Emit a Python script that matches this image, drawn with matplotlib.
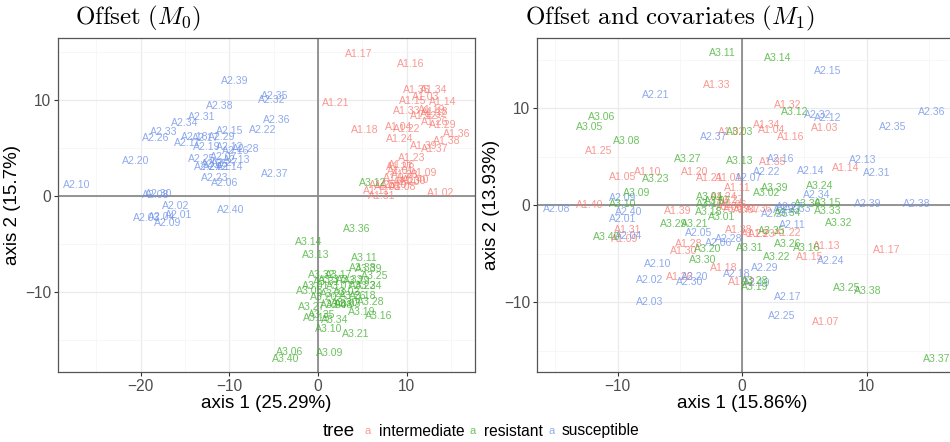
import matplotlib
matplotlib.use('Agg')
import matplotlib.pyplot as plt
from matplotlib.ticker import MultipleLocator

plt.rcParams['font.family'] = ['Liberation Sans', 'DejaVu Sans']
plt.rcParams['mathtext.fontset'] = 'cm'

# ---------------- data ----------------
sample_ids = ["01", "02", "03", "04", "05", "06", "07", "08", "09", "10",
              "11", "12", "13", "14", "15", "16", "17", "18", "19", "20",
              "21", "22", "23", "24", "25", "26", "27", "28", "29", "30",
              "31", "32", "33", "34", "35", "36", "37", "38", "39", "40"]

groups = ["intermediate", "resistant", "susceptible"]
group_prefix = ["A1", "A3", "A2"]
group_colors = ["#F8766D", "#3DAE2B", "#6A8FE8"]

# Model M0 (offset)
m0_int_x = [9.3, 13.8, 12.1, 9.05, 7.9, 9.4, 8.9, 9.5, 11.9, 8.5,
            6.6, 11.9, 13.2, 14.1, 10.7, 10.4, 4.55, 5.3, 12.8, 10.0,
            2.0, 10.0, 10.6, 9.2, 7.3, 13.2, 9.2, 9.8, 14.1, 10.7,
            7.2, 13.0, 10.0, 13.0, 11.1, 15.6, 13.2, 14.5, 11.9, 11.0]
m0_int_y = [2.6, 0.3, 10.3, 7.15, 0.9, 3.2, 1.9, 0.9, 2.4, 1.2,
            0.5, 8.3, 8.7, 9.8, 9.9, 13.8, 14.8, 6.9, 9.0, 1.5,
            9.65, 6.95, 4.0, 5.9, 1.2, 7.7, 3.0, 2.2, 7.45, 1.6,
            0.0, 8.5, 8.85, 11.0, 11.0, 6.5, 4.9, 5.7, 5.2, 1.7]

m0_sus_x = [-15.7, -16.1, -19.3, -17.6, -11.7, -10.5, -10.6, -18.3, -16.9, -27.2,
            -14.7, -9.9, -9.2, -9.9, -9.9, -9.3, -12.6, -13.9, -12.5, -20.6,
            -11.4, -6.2, -11.6, -12.4, -13.1, -18.3, -10.5, -8.2, -10.8, -18.0,
            -13.1, -5.2, -17.4, -15.0, -4.85, -4.7, -4.85, -11.1, -9.4, -9.9]
m0_sus_y = [-2.0, -1.0, -2.3, -2.2, 3.3, 1.4, 4.1, 0.1, -2.8, 1.2,
            5.5, 5.1, 3.8, 3.0, 6.8, 4.7, 6.0, 6.15, 5.1, 3.6,
            3.0, 6.9, 1.85, 3.0, 3.9, 6.0, 3.4, 4.9, 6.1, 0.2,
            8.2, 10.0, 6.7, 7.6, 10.45, 7.9, 2.26, 9.4, 12.0, -1.46]

m0_res_x = [-0.3, 3.2, 3.3, 1.8, -0.9, -3.2, 2.5, 2.5, 1.35, 1.2,
            5.2, 6.2, -0.2, -1.1, -0.15, 6.9, 2.3, 5.1, 4.9, 0.6,
            4.2, 1.8, 5.1, 5.7, 6.4, 3.9, -0.7, 5.9, 4.4, 3.0,
            1.0, 0.4, 3.6, 1.9, 0.4, 4.4, 1.5, 5.0, 5.7, -3.6]
m0_res_y = [-9.4, -10.0, -11.2, -11.4, -9.9, -16.2, -9.4, -11.35, -16.3, -13.8,
            -6.5, 1.4, -6.1, -4.8, -12.75, -12.5, -8.2, -10.4, -12.05, -10.55,
            -14.4, -10.2, -9.4, -9.4, -8.3, -10.4, -11.6, -11.0, -8.9, -11.1,
            -9.0, -8.2, -8.75, -12.9, -12.4, -3.4, -8.75, -7.5, -7.6, -17.0]

# Model M1 (offset and covariates)
m1_int_x = [-1.1, -0.8, 6.6, 2.4, -9.6, -0.7, 6.7, -1.0, -9.4, -7.6,
            -0.38, -0.03, 6.8, 8.3, 5.46, 3.9, 11.6, -1.5, -0.4, -3.8,
            -2.6, 3.7, 1.6, -1.5, -11.5, -5.0, -0.9, -4.3, 1.0, -4.7,
            -9.2, 3.7, -2.03, 1.98, 2.5, 1.3, 0.4, -0.3, -5.2, -12.2]
m1_int_y = [2.85, 7.6, 8.0, 7.8, 2.95, 0.03, -12.0, -0.2, -3.5, 3.4,
            1.75, -7.9, -4.2, 3.8, -5.3, 7.0, -4.6, -6.5, -0.4, 3.4,
            2.85, -2.8, -3.0, 0.9, 5.63, -7.36, 0.6, -4.0, -3.0, -4.7,
            -2.55, 10.3, 12.4, 8.3, 4.43, -0.4, -0.5, -2.55, -0.55, 0.03]

m1_sus_x = [-9.6, -7.4, -7.4, -9.1, -3.5, -1.9, 0.5, -14.9, -9.6, -6.8,
            4.0, 6.9, 9.7, 5.5, 6.9, 3.1, 3.64, -0.43, 1.2, -3.8,
            -6.93, 1.98, 3.6, 7.1, 3.2, 2.65, 3.86, -1.1, 1.85, -4.2,
            10.8, 6.1, 4.5, 6.0, 12.1, 15.2, -2.3, 14.0, 10.1, -9.1]
m1_sus_y = [-1.44, -7.7, -10.0, -3.2, -2.8, -3.9, 2.85, -0.38, 0.72, -6.05,
            -2.03, 9.0, 4.67, 3.5, 13.8, 4.77, -9.4, -7.1, -8.0, -7.36,
            11.4, 3.4, -0.5, -5.7, -11.4, -0.93, -0.14, -3.5, -6.5, -7.9,
            3.3, 9.3, -0.4, 1.06, 8.1, 9.65, 7.0, 0.13, 0.13, -0.66]

m1_res_x = [-1.6, 1.98, -0.16, -2.6, -12.2, -11.3, -2.0, -9.3, -8.46, -9.6,
            -1.6, 4.26, -0.2, 2.9, 6.9, 5.2, -2.6, -2.7, 1.04, -2.8,
            -3.8, 2.8, -6.9, 6.2, 8.4, 3.7, -4.4, 1.04, -5.5, -3.2,
            0.6, 7.8, 6.9, 3.7, 2.4, 5.3, 15.6, 10.1, 2.65, -10.9]
m1_res_y = [-1.24, 1.3, 7.6, 0.85, 8.04, 9.07, 0.4, 6.66, 1.24, 0.13,
            15.7, 9.65, 4.6, 15.2, 0.27, -4.4, 0.13, -0.66, -8.45, -4.5,
            -1.96, -5.36, 2.71, 2.0, -8.56, -4.0, 4.74, -7.8, -1.96, -5.6,
            -4.4, -1.86, -0.59, -0.8, -2.6, 0.13, -15.85, -8.8, 1.8, -3.3]

m0_axis_labels = ["axis 1 (25.29%)", "axis 2 (15.7%)"]
m1_axis_labels = ["axis 1 (15.86%)", "axis 2 (13.93%)"]
titles = [r"$\mathrm{Offset\ (}M_0\mathrm{)}$",
          r"$\mathrm{Offset\ and\ covariates\ (}M_1\mathrm{)}$"]

# ---------------- figure ----------------
W, H = 950, 442
fig = plt.figure(figsize=(W / 100, H / 100), dpi=100)


def px_rect(l, t, r, b):
    return [l / W, 1 - b / H, (r - l) / W, (b - t) / H]


ax0 = fig.add_axes(px_rect(58, 38, 475, 372))
ax1 = fig.add_axes(px_rect(537, 38, 960, 372))

alpha = 0.75


def style(ax, xlim, ylim, xticks, yticks):
    ax.set_xlim(*xlim)
    ax.set_ylim(*ylim)
    ax.set_xticks(xticks)
    ax.set_yticks(yticks)
    ax.xaxis.set_minor_locator(MultipleLocator(5))
    ax.yaxis.set_minor_locator(MultipleLocator(5))
    ax.grid(True, which='major', color='#EBEBEB', linewidth=0.9, zorder=0)
    ax.grid(True, which='minor', color='#F4F4F4', linewidth=0.5, zorder=0)
    ax.set_axisbelow(True)
    ax.tick_params(which='minor', length=0)
    ax.tick_params(which='major', length=3, width=0.8, color='#333333',
                   labelsize=11.2, labelcolor='#4D4D4D', pad=2)
    for s in ax.spines.values():
        s.set_color('#555555')
        s.set_linewidth(0.9)
    ax.axhline(0, color='#8C8C8C', linewidth=1.3, zorder=1)
    ax.axvline(0, color='#8C8C8C', linewidth=1.3, zorder=1)


style(ax0, (-29.31, 17.7), (-18.33, 16.46), [-20, -10, 0, 10], [-10, 0, 10])
style(ax1, (-16.47, 17.5), (-17.18, 17.25), [-10, 0, 10], [-10, 0, 10])

panels = [
    (ax0, [(m0_int_x, m0_int_y), (m0_res_x, m0_res_y), (m0_sus_x, m0_sus_y)]),
    (ax1, [(m1_int_x, m1_int_y), (m1_res_x, m1_res_y), (m1_sus_x, m1_sus_y)]),
]
order = [0, 2, 1]  # A1, A2, A3 drawing order
for ax, data in panels:
    for gi in order:
        xs, ys = data[gi]
        for sid, x, y in zip(sample_ids, xs, ys):
            ax.text(x, y, f"{group_prefix[gi]}.{sid}", color=group_colors[gi],
                    alpha=alpha, fontsize=7.6, ha='center', va='center',
                    clip_on=True, zorder=3)

for ax, labs in [(ax0, m0_axis_labels), (ax1, m1_axis_labels)]:
    ax.set_xlabel(labs[0], fontsize=13.5, color='black', labelpad=3)
    ax.set_ylabel(labs[1], fontsize=13.5, color='black', labelpad=3)

# x label of right panel centred on visible part
ax1.xaxis.set_label_coords((742 - 537) / (960 - 537), -0.07)
ax0.xaxis.set_label_coords(0.5, -0.07)

# titles
fig.text(75 / W, 1 - 18 / H, titles[0], fontsize=18, ha='left', va='center')
fig.text(525 / W, 1 - 18 / H, titles[1], fontsize=18, ha='left', va='center')

# legend
ly = 1 - 431 / H
fig.text(323 / W, ly, "tree", fontsize=13.5, ha='left', va='center')
key_x = [368, 473, 552]
lab_x = [379, 484, 562]
for gi in range(3):
    fig.text(key_x[gi] / W, ly, "a", fontsize=8, color=group_colors[gi],
             alpha=alpha, ha='center', va='center')
    fig.text(lab_x[gi] / W, ly, groups[gi], fontsize=11.2, ha='left',
             va='center', color='black')

fig.savefig("out.png", dpi=100)
